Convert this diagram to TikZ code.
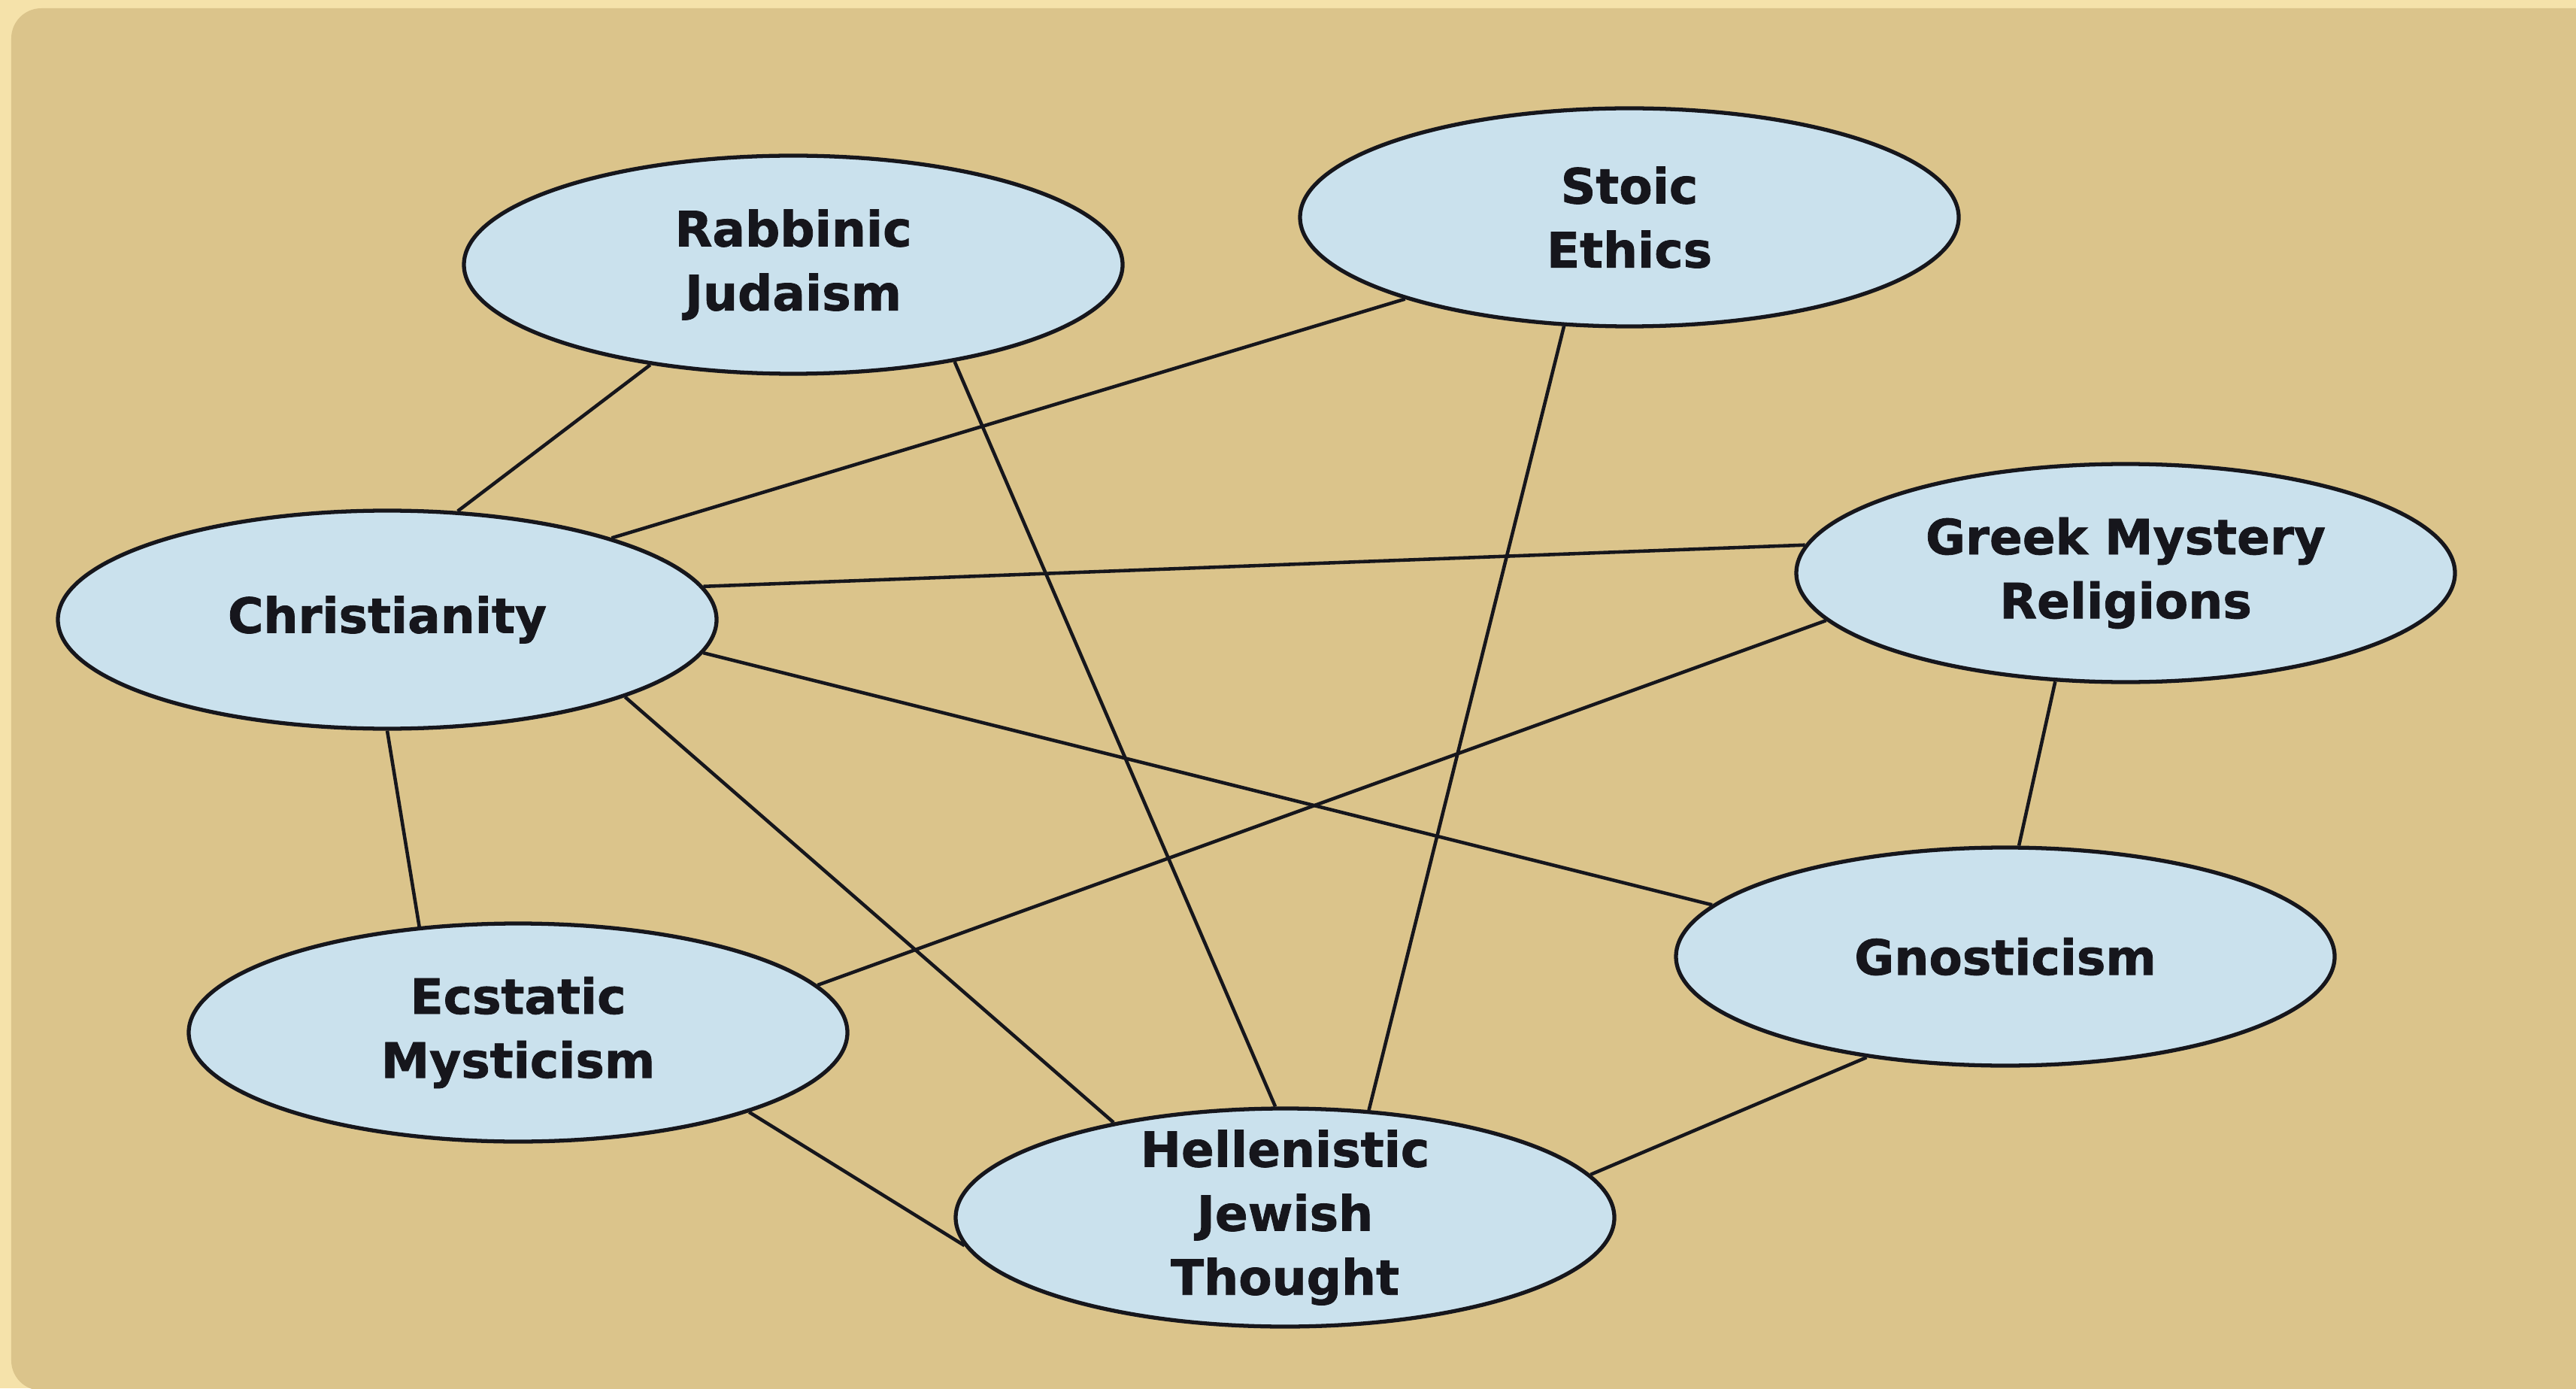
\documentclass[tikz,border=0pt]{standalone}
\usepackage{fontspec}
\setmainfont{DejaVu Sans}[BoldFeatures={FakeBold=1.2}]
\usepackage{tikz}
\usetikzlibrary{shapes.geometric}
\definecolor{panel}{RGB}{219,196,139}
\definecolor{frame}{RGB}{245,226,170}
\definecolor{bubble}{RGB}{202,225,237}
\definecolor{ink}{RGB}{22,22,28}
\tikzset{
  belief/.style = {shape=ellipse, draw=ink, line width=1.5pt,
                   fill=bubble, text=ink, align=center,
                   minimum width=8.76cm, minimum height=2.9cm,
                   inner xsep=0pt, inner ysep=-6pt,
                   font=\bfseries\fontsize{18.4}{24.2}\selectfont},
  link/.style   = {draw=ink, line width=1.3pt}
}

\begin{document}
\begin{tikzpicture}
  \useasboundingbox (0,0) rectangle (34.26,18.46);
  \fill [frame] (0,0) rectangle (34.26,18.46);
  \begin{scope}
    \clip (0,0) rectangle (34.26,18.46);
    \fill [panel, rounded corners=0.4cm] (0.15,-0.03) rectangle (34.8,18.35);
  \end{scope}

  \node [belief] (rab) at (10.55,14.94) {Rabbinic\\Judaism};
  \node [belief] (sto) at (21.67,15.57) {Stoic\\Ethics};
  \node [belief] (chr) at (5.15,10.22)  {Christianity};
  \node [belief] (grk) at (28.27,10.84) {Greek Mystery\\Religions};
  \node [belief] (gno) at (26.67,5.74)  {Gnosticism};
  \node [belief] (ecs) at (6.89,4.73)   {Ecstatic\\Mysticism};
  \node [belief] (hel) at (17.09,2.27)  {Hellenistic\\Jewish\\Thought};

  \path [link]
    (rab.215)   edge (chr.57)
    (rab.329)   edge (hel.95)
    (sto.200.6) edge (chr.20)
    (sto.239)   edge (hel.52)
    (chr.6.3)   edge (grk.175.4)
    (chr.354)   edge (gno.170.7)
    (chr.342.7) edge (hel.151.7)
    (chr.270)   edge (ecs.133)
    (grk.189.2) edge (ecs.9.4)
    (grk.237.3) edge (gno.83)
    (ecs.341.4) edge (hel.185.2)
    (gno.216.5) edge (hel.8.9);

\end{tikzpicture}
\end{document}
